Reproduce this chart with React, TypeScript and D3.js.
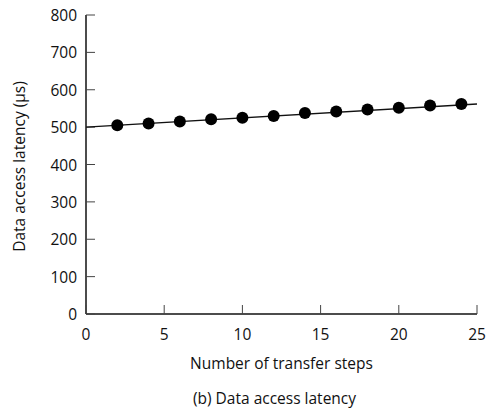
import React from 'react';
import * as d3 from 'd3';

// transfer steps vs measured latency (µs)
const steps = [2, 4, 6, 8, 10, 12, 14, 16, 18, 20, 22, 24];
const latency = [505, 510, 515, 521, 525, 530, 538, 542, 547, 552, 558, 562];
// fitted trend line end points
const fitSteps = [0, 25];
const fitLatency = [500, 562];
const xTicks = [0, 5, 10, 15, 20, 25];
const yTicks = [0, 100, 200, 300, 400, 500, 600, 700, 800];

const width = 488;
const height = 412;
const margin = { top: 15, right: 11, bottom: 98, left: 86 };
const font = "'Open Sans', sans-serif";

export default function App() {
  const x = d3.scaleLinear().domain([0, 25]).range([margin.left, width - margin.right]);
  const y = d3.scaleLinear().domain([0, 800]).range([height - margin.bottom, margin.top]);

  const line = d3.line<number>()
    .x((_, i) => x(fitSteps[i]))
    .y(d => y(d));

  const x0 = x(0);
  const y0 = y(0);

  return (
    <svg width={width} height={height} style={{ position: 'absolute', left: 0, top: 0 }}>
      <rect width={width} height={height} fill="#fff" />
      <g fontFamily={font} fontSize={15.5} fill="#111">
        {/* axes */}
        <line x1={x0} x2={x0} y1={y(800)} y2={y0} stroke="#111" strokeWidth={1.5} />
        <line x1={x0} x2={x(25)} y1={y0} y2={y0} stroke="#111" strokeWidth={1.5} />
        {yTicks.map(t => (
          <g key={'y' + t}>
            <line x1={x0} x2={x0 + 9} y1={y(t)} y2={y(t)} stroke="#444" strokeWidth={1} />
            <text x={x0 - 9} y={y(t)} textAnchor="end" dominantBaseline="central">{t}</text>
          </g>
        ))}
        {xTicks.map(t => (
          <g key={'x' + t}>
            <line x1={x(t)} x2={x(t)} y1={y0} y2={y0 - 9} stroke="#444" strokeWidth={1} />
            <text x={x(t)} y={y0 + 20} textAnchor="middle" dominantBaseline="central">{t}</text>
          </g>
        ))}
        <text x={(x0 + x(25)) / 2} y={363} textAnchor="middle" dominantBaseline="central">
          Number of transfer steps
        </text>
        <text x={(x0 + x(25)) / 2 - 7} y={398} textAnchor="middle" dominantBaseline="central">
          (b) Data access latency
        </text>
        <text
          transform={`translate(19,${(y(800) + y0) / 2 + 2}) rotate(-90)`}
          textAnchor="middle"
          dominantBaseline="central"
        >
          Data access latency (µs)
        </text>
      </g>
      <path d={line(fitLatency) ?? ''} fill="none" stroke="#111" strokeWidth={1.4} />
      {steps.map((s, i) => (
        <circle key={s} cx={x(s)} cy={y(latency[i])} r={6} fill="#000" />
      ))}
    </svg>
  );
}
